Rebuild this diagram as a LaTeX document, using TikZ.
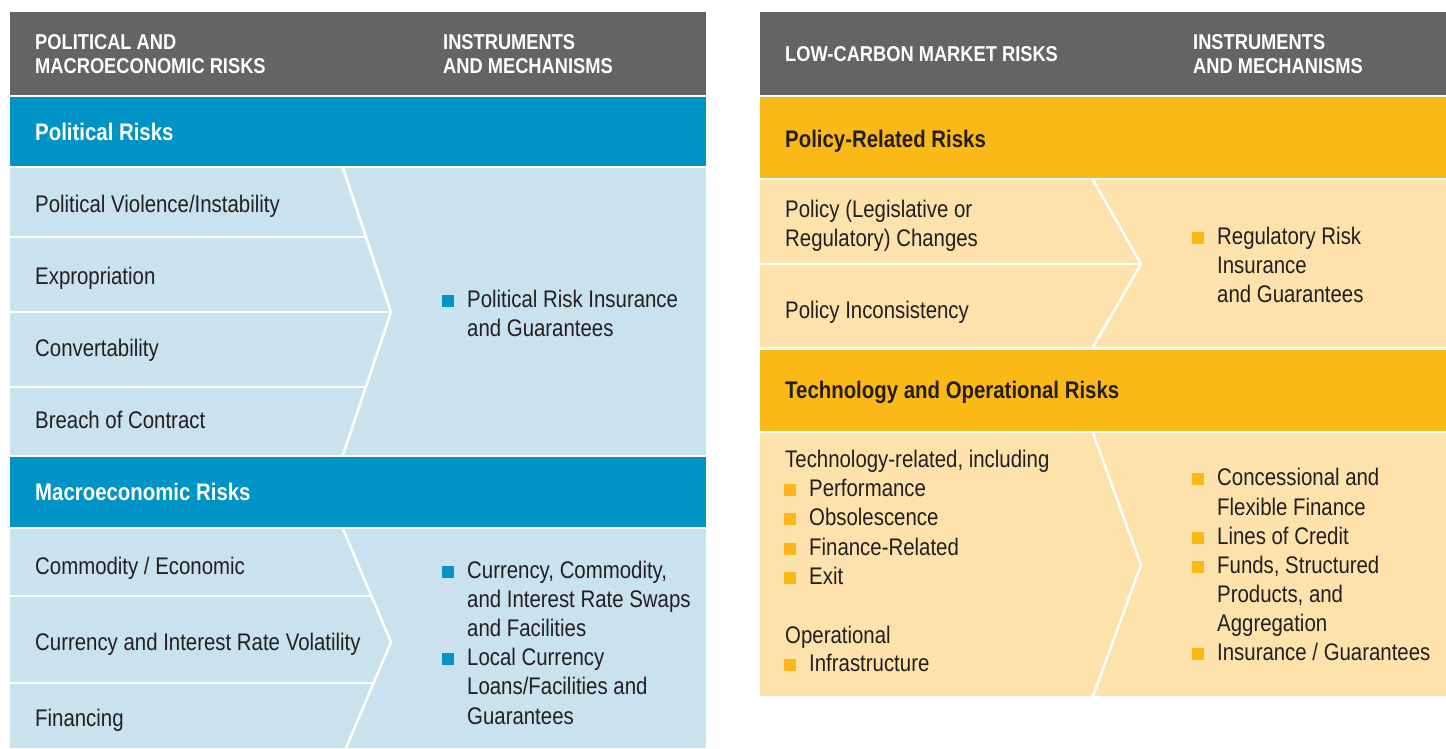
\documentclass[tikz,border=0pt]{standalone}
\usepackage{fontspec}
\setmainfont{Liberation Sans}[FakeStretch=0.85]
\definecolor{hdr}{HTML}{636466}
\definecolor{blu}{HTML}{0093C6}
\definecolor{lblu}{HTML}{C9E2ED}
\definecolor{yel}{HTML}{FBB917}
\definecolor{lyel}{HTML}{FEE2AC}
\definecolor{ink}{HTML}{231F20}
\newcommand{\bsq}[1]{\textcolor{#1}{\rule{12pt}{12pt}}\hspace{13pt}}
\begin{document}
\begin{tikzpicture}[x=1pt,y=-1pt,
  txt/.style={anchor=base west,inner sep=0pt,text=ink,font=\fontsize{24}{29}\selectfont},
  hd/.style={anchor=base west,inner sep=0pt,text=white,font=\fontsize{21.5}{24}\selectfont\bfseries},
  bandtitle/.style={anchor=base west,inner sep=0pt,font=\fontsize{24}{29}\selectfont\bfseries},
  sep/.style={white,line width=2.5pt},
  chev/.style={white,line width=2.5pt,line join=miter}]
\useasboundingbox (0,0) rectangle (1446,748);
% ---------- left panel backgrounds
\fill[hdr]  (10,12)  rectangle (706,95);
\fill[blu]  (10,97)  rectangle (706,166);
\fill[lblu] (10,168) rectangle (706,455);
\fill[blu]  (10,457) rectangle (706,527);
\fill[lblu] (10,529) rectangle (706,748);
% ---------- right panel backgrounds
\fill[hdr]  (760,12)  rectangle (1446,95);
\fill[yel]  (760,97)  rectangle (1446,178);
\fill[lyel] (760,180) rectangle (1446,347);
\fill[yel]  (760,350) rectangle (1446,431);
\fill[lyel] (760,433) rectangle (1446,696);
% ---------- separators and chevrons (left)
\draw[sep] (10,237) -- (366,237);
\draw[sep] (10,312) -- (391,312);
\draw[sep] (10,387) -- (366,387);
\draw[chev] (343,168) -- (391,312) -- (343,455);
\draw[sep] (10,596) -- (371.5,596);
\draw[sep] (10,683) -- (373.6,683);
\draw[chev] (343,529) -- (391,642) -- (346,748);
% ---------- separators and chevrons (right)
\draw[sep] (760,264) -- (1141,264);
\draw[chev] (1093,180) -- (1141,264) -- (1093,347);
\draw[chev] (1093,433) -- (1141,565) -- (1093,696);
% ---------- headers
\node[hd] (h1a) at (35,49) {POLITICAL AND};
\node[hd] (h1b) at (35,73) {MACROECONOMIC RISKS};
\node[hd] (h2a) at (443,49) {INSTRUMENTS};
\node[hd] (h2b) at (443,73) {AND MECHANISMS};
\node[hd] (h3)  at (785,61) {LOW-CARBON MARKET RISKS};
\node[hd] (h4a) at (1193,49) {INSTRUMENTS};
\node[hd] (h4b) at (1193,73) {AND MECHANISMS};
% ---------- left panel text
\node[bandtitle,text=white] (pr) at (35,140) {Political Risks};
\node[txt] (r1) at (35,212) {Political Violence/Instability};
\node[txt] (r2) at (35,284) {Expropriation};
\node[txt] (r3) at (35,356) {Convertability};
\node[txt] (r4) at (35,428) {Breach of Contract};
\node[txt] (i1a) at (442,307) {\bsq{blu}Political Risk Insurance};
\node[txt] (i1b) at (467,336) {and Guarantees};
\node[bandtitle,text=white] (mr) at (35,500) {Macroeconomic Risks};
\node[txt] (m1) at (35,574) {Commodity / Economic};
\node[txt] (m2) at (35,650) {Currency and Interest Rate Volatility};
\node[txt] (m3) at (35,726) {Financing};
\node[txt] (j1a) at (442,578) {\bsq{blu}Currency, Commodity,};
\node[txt] (j1b) at (467,607) {and Interest Rate Swaps};
\node[txt] (j1c) at (467,636) {and Facilities};
\node[txt] (j2a) at (442,665) {\bsq{blu}Local Currency};
\node[txt] (j2b) at (467,694) {Loans/Facilities and};
\node[txt] (j2c) at (467,724) {Guarantees};
% ---------- right panel text
\node[bandtitle,text=ink] (plr) at (785,147) {Policy-Related Risks};
\node[txt] (p1a) at (785,217) {Policy (Legislative or};
\node[txt] (p1b) at (785,246) {Regulatory) Changes};
\node[txt] (p2)  at (785,318) {Policy Inconsistency};
\node[txt] (k1a) at (1192,244) {\bsq{yel}Regulatory Risk};
\node[txt] (k1b) at (1217,273) {Insurance};
\node[txt] (k1c) at (1217,302) {and Guarantees};
\node[bandtitle,text=ink] (tor) at (785,398) {Technology and Operational Risks};
\node[txt] (t0) at (785,467) {Technology-related, including};
\node[txt] (t1) at (784,496) {\bsq{yel}Performance};
\node[txt] (t2) at (784,525) {\bsq{yel}Obsolescence};
\node[txt] (t3) at (784,555) {\bsq{yel}Finance-Related};
\node[txt] (t4) at (784,584) {\bsq{yel}Exit};
\node[txt] (o0) at (785,643) {Operational};
\node[txt] (o1) at (784,671) {\bsq{yel}Infrastructure};
\node[txt] (n1a) at (1192,485) {\bsq{yel}Concessional and};
\node[txt] (n1b) at (1217,515) {Flexible Finance};
\node[txt] (n2)  at (1192,544) {\bsq{yel}Lines of Credit};
\node[txt] (n3a) at (1192,573) {\bsq{yel}Funds, Structured};
\node[txt] (n3b) at (1217,602) {Products, and};
\node[txt] (n3c) at (1217,631) {Aggregation};
\node[txt] (n4)  at (1192,660) {\bsq{yel}Insurance / Guarantees};
\end{tikzpicture}
\end{document}
